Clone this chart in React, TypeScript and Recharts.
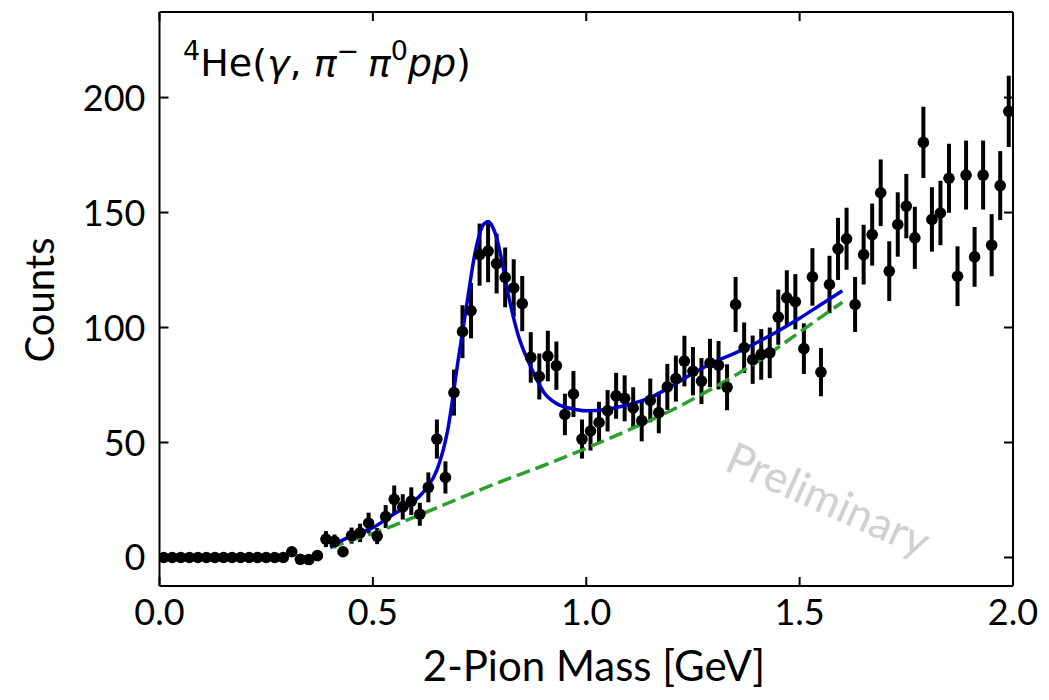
import React from 'react';
import { ComposedChart, Scatter, Line, XAxis, YAxis, ErrorBar } from 'recharts';

// bin centres of the 2-pion mass histogram [GeV]
const binCenters = [
  0.01, 0.03, 0.05, 0.07, 0.09, 0.11, 0.13, 0.15, 0.17, 0.19,
  0.21, 0.23, 0.25, 0.27, 0.29, 0.31, 0.33, 0.35, 0.37, 0.39,
  0.41, 0.43, 0.45, 0.47, 0.49, 0.51, 0.53, 0.55, 0.57, 0.59,
  0.61, 0.63, 0.65, 0.67, 0.69, 0.71, 0.73, 0.75, 0.77, 0.79,
  0.81, 0.83, 0.85, 0.87, 0.89, 0.91, 0.93, 0.95, 0.97, 0.99,
  1.01, 1.03, 1.05, 1.07, 1.09, 1.11, 1.13, 1.15, 1.17, 1.19,
  1.21, 1.23, 1.25, 1.27, 1.29, 1.31, 1.33, 1.35, 1.37, 1.39,
  1.41, 1.43, 1.45, 1.47, 1.49, 1.51, 1.53, 1.55, 1.57, 1.59,
  1.61, 1.63, 1.65, 1.67, 1.69, 1.71, 1.73, 1.75, 1.77, 1.79,
  1.81, 1.83, 1.85, 1.87, 1.89, 1.91, 1.93, 1.95, 1.97, 1.99,
];

const counts = [
  0, 0, 0, 0, 0, 0, 0, 0, 0, 0,
  0, 0, 0, 0, 0, 2.5, -0.8, -0.9, 0.8, 8,
  7, 2.5, 9.5, 10.7, 15, 9.3, 17.8, 25.3, 22, 24.5,
  18.8, 30.5, 51.5, 34.8, 71.7, 98.2, 107.3, 131.7, 133.2, 127.8,
  121.8, 117.2, 110.4, 87, 78.7, 87.6, 83.4, 62.2, 71.1, 51.5,
  55, 58.7, 63.8, 70.3, 69.2, 65, 59.5, 68.3, 63, 74.2,
  77.8, 85.4, 81, 76.7, 84.6, 83.6, 74, 110, 91.2, 86,
  88.3, 89, 104.5, 112.9, 111.2, 90.8, 122, 80.6, 118.7, 134.2,
  138.6, 110, 131.7, 140.4, 158.6, 124.5, 144.8, 152.8, 139, 180.5,
  147, 149.8, 164.9, 122.3, 166.3, 130.7, 166.3, 135.8, 161.7, 194,
];

const countErrors = [
  0, 0, 0, 0, 0, 0, 0, 0, 0, 0,
  0, 0, 0, 0, 0, 2, 1, 1, 1, 3.5,
  3, 2, 3.5, 4, 4.5, 3.5, 5, 6, 5.5, 6,
  5, 6.5, 8.5, 7, 10, 11.5, 12, 13.5, 13.5, 13,
  13, 12.5, 12, 11, 10, 11, 10.5, 9, 10, 8.5,
  8.5, 9, 9, 10, 10, 9, 9, 9.5, 9, 10,
  10, 11, 10.5, 10, 10.5, 10.5, 10, 12, 11, 10.5,
  11, 11, 12, 12, 12, 11, 12.5, 10.5, 12.5, 13.5,
  13.5, 12, 13, 13.5, 14.5, 13, 14, 14, 13.5, 15.5,
  14, 14, 15, 13, 15, 13, 15, 13.5, 15, 15.5,
];

// total fit (rho + background)
const fitMass = [
  0.4, 0.45, 0.5, 0.55, 0.6, 0.625, 0.65, 0.675, 0.7, 0.72, 0.74, 0.76, 0.77,
  0.78, 0.79, 0.8, 0.82, 0.84, 0.86, 0.88, 0.9, 0.93, 0.96, 1.0, 1.05, 1.1,
  1.15, 1.2, 1.25, 1.3, 1.35, 1.4, 1.45, 1.5, 1.55, 1.6,
];
const fitCounts = [
  4.5, 9.5, 13, 19, 25, 30, 38, 55, 86, 110, 133, 145, 146,
  144, 139, 131, 112, 97, 87, 79, 72, 67, 65, 63.8, 64.5, 66.5,
  69.5, 74.5, 80, 85, 89, 93.5, 98.5, 104, 110, 116,
];

// background only
const bkgMass = [0.4, 0.45, 0.5, 0.55, 0.6, 0.7, 0.8, 0.9, 1.0, 1.1, 1.2, 1.3, 1.4, 1.5, 1.6];
const bkgCounts = [4.3, 7.5, 10.5, 14, 17.8, 25.5, 33, 40, 47.5, 55.5, 64, 74, 85, 98, 111];

const xTicks = [0, 0.5, 1.0, 1.5, 2.0];
const yTicks = [0, 50, 100, 150, 200];

const points = binCenters.map((x, i) => ({ x, y: counts[i], err: countErrors[i] }));
const fitData = fitMass.map((x, i) => ({ x, y: fitCounts[i] }));
const bkgData = bkgMass.map((x, i) => ({ x, y: bkgCounts[i] }));

const W = 1041;
const H = 692;
const TICK_LEN = 9;
const FONT = 'Lato, sans-serif';

function BottomTick({ x, y, payload }: any) {
  return (
    <g>
      <line x1={x} x2={x} y1={y} y2={y - TICK_LEN} stroke="#000" strokeWidth={2} />
      <text x={x} y={y + 39} textAnchor="middle" fontFamily={FONT} fontSize={36} fill="#000">
        {Number(payload.value).toFixed(1)}
      </text>
    </g>
  );
}

function TopTick({ x, y }: any) {
  return <line x1={x} x2={x} y1={y} y2={y + TICK_LEN} stroke="#000" strokeWidth={2} />;
}

function LeftTick({ x, y, payload }: any) {
  return (
    <g>
      <line x1={x} x2={x + TICK_LEN} y1={y} y2={y} stroke="#000" strokeWidth={2} />
      <text x={x - 14} y={y + 13} textAnchor="end" fontFamily={FONT} fontSize={36} fill="#000">
        {payload.value}
      </text>
    </g>
  );
}

function RightTick({ x, y }: any) {
  return <line x1={x} x2={x - TICK_LEN} y1={y} y2={y} stroke="#000" strokeWidth={2} />;
}

const Dot = (props: any) => <circle cx={props.cx} cy={props.cy} r={5.8} fill="#000" />;

export default function App() {
  const frame = { stroke: '#000', strokeWidth: 2 };
  const yDomain = [-12.4, 237.2];
  return (
    <div style={{ position: 'relative', width: W, height: H }}>
      <ComposedChart width={W} height={H} margin={{ top: 3, right: 35, bottom: 0, left: 0 }}>
        <XAxis
          dataKey="x"
          type="number"
          domain={[0, 2]}
          ticks={xTicks}
          height={114}
          axisLine={frame}
          tickLine={false}
          tickSize={0}
          tickMargin={0}
          tick={<BottomTick />}
          allowDataOverflow
        />
        <XAxis
          xAxisId="top"
          dataKey="x"
          orientation="top"
          type="number"
          domain={[0, 2]}
          ticks={xTicks}
          height={1}
          axisLine={frame}
          tickLine={false}
          tickSize={0}
          tickMargin={0}
          tick={<TopTick />}
          allowDataOverflow
        />
        <YAxis
          type="number"
          domain={yDomain}
          ticks={yTicks}
          width={151.5}
          axisLine={frame}
          tickLine={false}
          tickSize={0}
          tickMargin={0}
          tick={<LeftTick />}
          allowDataOverflow
        />
        <YAxis
          yAxisId="right"
          orientation="right"
          type="number"
          domain={yDomain}
          ticks={yTicks}
          width={1}
          axisLine={frame}
          tickLine={false}
          tickSize={0}
          tickMargin={0}
          tick={<RightTick />}
          allowDataOverflow
        />
        <Scatter data={points} dataKey="y" shape={Dot} isAnimationActive={false}>
          <ErrorBar dataKey="err" direction="y" width={0} stroke="#000" strokeWidth={4} />
        </Scatter>
        <Line
          data={bkgData}
          dataKey="y"
          type="monotone"
          stroke="#2ca02c"
          strokeWidth={3.5}
          strokeDasharray="14 6"
          dot={false}
          activeDot={false}
          isAnimationActive={false}
        />
        <Line
          data={fitData}
          dataKey="y"
          type="monotone"
          stroke="#0000cd"
          strokeWidth={3.5}
          dot={false}
          activeDot={false}
          isAnimationActive={false}
        />
        {/* invisible series so the mirrored top/right axes get drawn */}
        <Line
          xAxisId="top"
          yAxisId="right"
          data={bkgData}
          dataKey="y"
          stroke="none"
          strokeOpacity={0}
          dot={false}
          activeDot={false}
          isAnimationActive={false}
        />
      </ComposedChart>
      <svg
        width={W}
        height={H}
        style={{ position: 'absolute', left: 0, top: 0, pointerEvents: 'none' }}
      >
        <text x={175} y={68} fontFamily="DejaVu Sans" fontSize={38} fill="#000">
          <tspan fontSize={27} dy={-16}>4</tspan>
          <tspan dy={16}>He(</tspan>
          <tspan fontStyle="italic">γ</tspan>
          <tspan>, </tspan>
          <tspan fontStyle="italic">π</tspan>
          <tspan fontSize={27} dy={-16}>− </tspan>
          <tspan fontStyle="italic" dy={16}>π</tspan>
          <tspan fontSize={27} dy={-16}>0</tspan>
          <tspan fontStyle="italic" dy={16}>pp</tspan>
          <tspan>)</tspan>
        </text>
        <text
          x={46}
          y={292}
          transform="rotate(-90 46 292)"
          textAnchor="middle"
          fontFamily={FONT}
          fontSize={40}
          fill="#000"
        >
          Counts
        </text>
        <text x={586} y={673} textAnchor="middle" fontFamily={FONT} fontSize={42} fill="#000">
          2-Pion Mass [GeV]
        </text>
        <text
          x={820}
          y={507}
          transform="rotate(24 820 492)"
          textAnchor="middle"
          fontFamily={FONT}
          fontSize={44}
          fill="#d0d0d0"
        >
          Preliminary
        </text>
      </svg>
    </div>
  );
}
